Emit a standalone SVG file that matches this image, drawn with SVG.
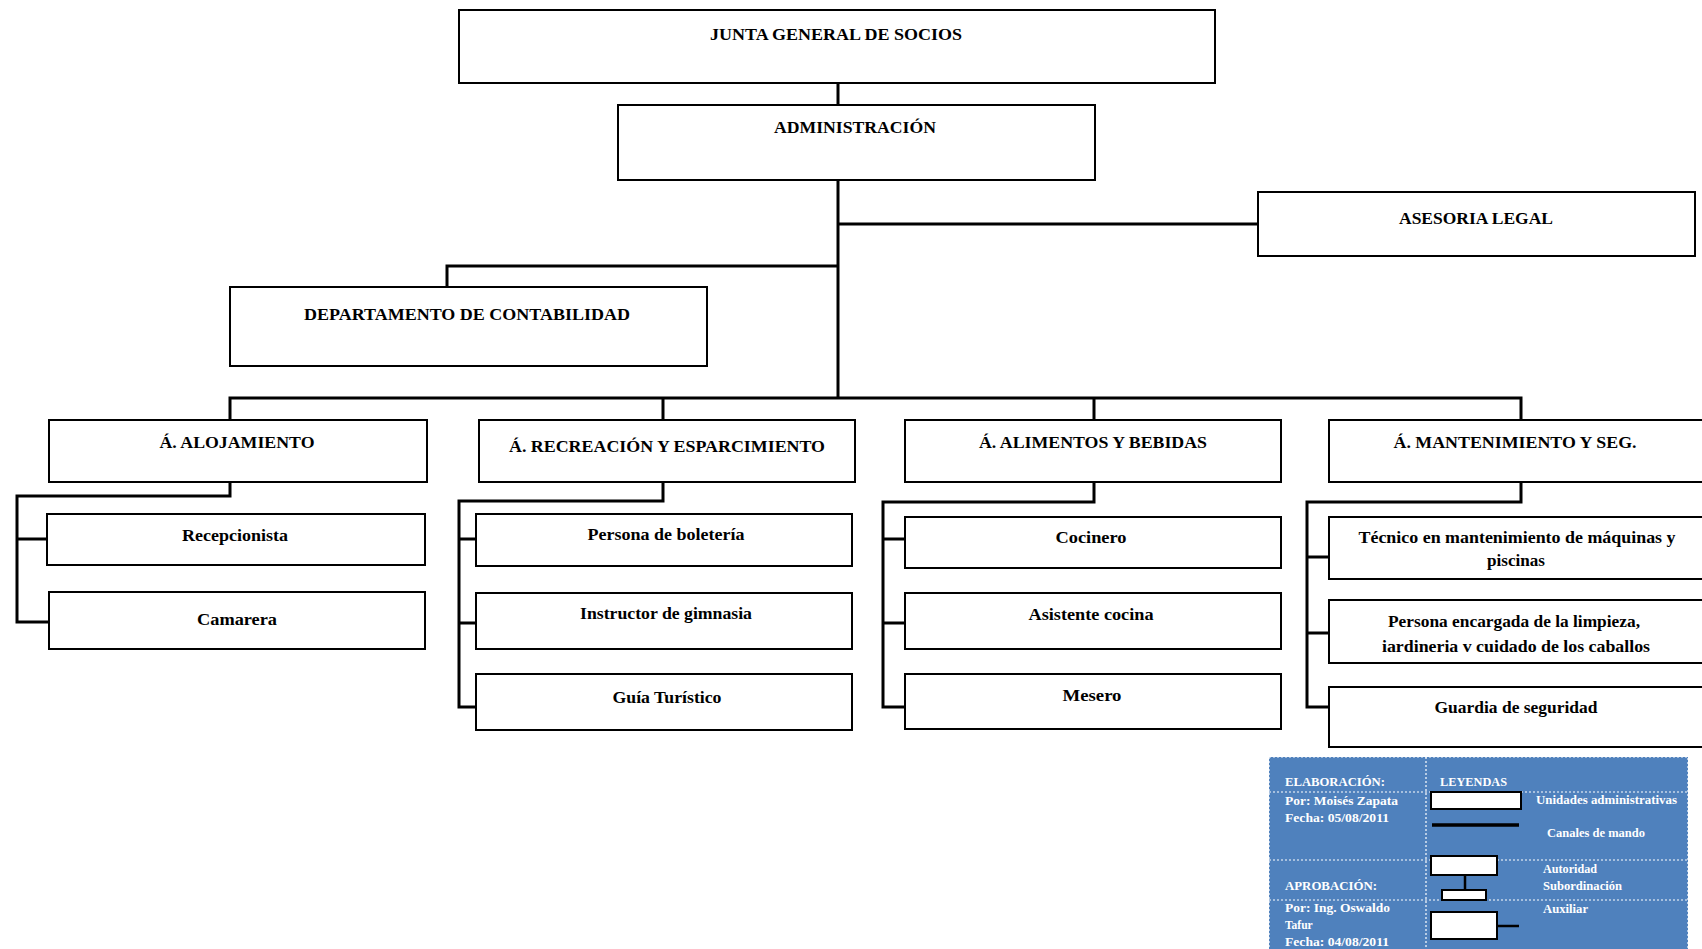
<svg xmlns="http://www.w3.org/2000/svg" width="1702" height="949" viewBox="0 0 1702 949">
<style>
.box{fill:#fff;stroke:#000;stroke-width:2}
.lbl{font-family:"Liberation Serif",serif;font-weight:bold;font-size:17px;text-anchor:middle;fill:#000}
.conn{fill:none;stroke:#000;stroke-width:3;stroke-linejoin:miter}
.leg{fill:#fff;font-family:"Liberation Serif",serif;font-weight:bold;font-size:11.5px}
.dot{fill:none;stroke:#fff;stroke-width:1.2;stroke-dasharray:2,2}
.lbox{fill:#fff;stroke:#000;stroke-width:2}
</style>
<rect width="1702" height="949" fill="#fff"/>
<g id="connectors">
<path class="conn" d="M838,83 V105"/>
<path class="conn" d="M838,180 V398"/>
<path class="conn" d="M838,224 H1258"/>
<path class="conn" d="M838,266 H447 V287"/>
<path class="conn" d="M230,420 V398 H1521 V420"/>
<path class="conn" d="M663,398 V420 M1094,398 V420"/>
<path class="conn" d="M230,482 V496 H17 V622 H49 M17,539 H47"/>
<path class="conn" d="M663,482 V501 H459 V707 H476 M459,539 H476 M459,623 H476"/>
<path class="conn" d="M1094,482 V502 H883 V707 H905 M883,539 H905 M883,623 H905"/>
<path class="conn" d="M1521,482 V502 H1307 V707 H1329 M1307,557 H1329 M1307,633 H1329"/>
</g>
<g id="junta"><rect class="box" x="459" y="10" width="756" height="73"/><text class="lbl" x="836" y="40" textLength="252" lengthAdjust="spacingAndGlyphs">JUNTA GENERAL DE SOCIOS</text></g>
<g id="admin"><rect class="box" x="618" y="105" width="477" height="75"/><text class="lbl" x="855" y="133" textLength="162" lengthAdjust="spacingAndGlyphs">ADMINISTRACIÓN</text></g>
<g id="asesoria"><rect class="box" x="1258" y="192" width="437" height="64"/><text class="lbl" x="1476" y="224" textLength="154" lengthAdjust="spacingAndGlyphs">ASESORIA LEGAL</text></g>
<g id="contabilidad"><rect class="box" x="230" y="287" width="477" height="79"/><text class="lbl" x="467" y="320" textLength="326" lengthAdjust="spacingAndGlyphs">DEPARTAMENTO DE CONTABILIDAD</text></g>
<g id="alojamiento"><rect class="box" x="49" y="420" width="378" height="62"/><text class="lbl" x="237" y="448" textLength="155" lengthAdjust="spacingAndGlyphs">Á. ALOJAMIENTO</text></g>
<g id="recreacion"><rect class="box" x="479" y="420" width="376" height="62"/><text class="lbl" x="667" y="452" textLength="316" lengthAdjust="spacingAndGlyphs">Á. RECREACIÓN Y ESPARCIMIENTO</text></g>
<g id="alimentos"><rect class="box" x="905" y="420" width="376" height="62"/><text class="lbl" x="1093" y="448" textLength="228" lengthAdjust="spacingAndGlyphs">Á. ALIMENTOS Y BEBIDAS</text></g>
<g id="mantenimiento"><rect class="box" x="1329" y="420" width="380" height="62"/><text class="lbl" x="1515" y="448" textLength="243" lengthAdjust="spacingAndGlyphs">Á. MANTENIMIENTO Y SEG.</text></g>
<g id="recepcionista"><rect class="box" x="47" y="514" width="378" height="51"/><text class="lbl" x="235" y="541" textLength="106" lengthAdjust="spacingAndGlyphs">Recepcionista</text></g>
<g id="camarera"><rect class="box" x="49" y="592" width="376" height="57"/><text class="lbl" x="237" y="625" textLength="80" lengthAdjust="spacingAndGlyphs">Camarera</text></g>
<g id="boleteria"><rect class="box" x="476" y="514" width="376" height="52"/><text class="lbl" x="666" y="540" textLength="157" lengthAdjust="spacingAndGlyphs">Persona de boletería</text></g>
<g id="instructor"><rect class="box" x="476" y="593" width="376" height="56"/><text class="lbl" x="666" y="619" textLength="172" lengthAdjust="spacingAndGlyphs">Instructor de gimnasia</text></g>
<g id="guia"><rect class="box" x="476" y="674" width="376" height="56"/><text class="lbl" x="667" y="703" textLength="109" lengthAdjust="spacingAndGlyphs">Guía Turístico</text></g>
<g id="cocinero"><rect class="box" x="905" y="517" width="376" height="51"/><text class="lbl" x="1091" y="543" textLength="71" lengthAdjust="spacingAndGlyphs">Cocinero</text></g>
<g id="asistente"><rect class="box" x="905" y="593" width="376" height="56"/><text class="lbl" x="1091" y="620" textLength="125" lengthAdjust="spacingAndGlyphs">Asistente cocina</text></g>
<g id="mesero"><rect class="box" x="905" y="674" width="376" height="55"/><text class="lbl" x="1092" y="701" textLength="59" lengthAdjust="spacingAndGlyphs">Mesero</text></g>
<g id="tecnico"><rect class="box" x="1329" y="517" width="380" height="62"/><text class="lbl" x="1517" y="543" textLength="317" lengthAdjust="spacingAndGlyphs">Técnico en mantenimiento de máquinas  y</text><text class="lbl" x="1516" y="566" textLength="58" lengthAdjust="spacingAndGlyphs">piscinas</text></g>
<g id="limpieza"><rect class="box" x="1329" y="600" width="380" height="63"/><text class="lbl" x="1514" y="627" textLength="252" lengthAdjust="spacingAndGlyphs">Persona encargada de la limpieza,</text><text class="lbl" x="1516" y="652" textLength="268" lengthAdjust="spacingAndGlyphs">iardineria v cuidado  de los caballos</text></g>
<g id="guardia"><rect class="box" x="1329" y="687" width="380" height="60"/><text class="lbl" x="1516" y="713" textLength="163" lengthAdjust="spacingAndGlyphs">Guardia de seguridad</text></g>
<g id="leyenda">
<rect x="1269" y="757" width="419" height="200" fill="#4F81BD"/>
<rect class="dot" x="1269" y="757" width="419" height="200"/>
<path class="dot" d="M1426,757 V949 M1269,792 H1688 M1269,860 H1688 M1269,900 H1688"/>
<text class="leg" x="1285" y="786" textLength="100" lengthAdjust="spacingAndGlyphs">ELABORACIÓN:</text>
<text class="leg" x="1440" y="786" textLength="67" lengthAdjust="spacingAndGlyphs">LEYENDAS</text>
<text class="leg" x="1285" y="805" textLength="113" lengthAdjust="spacingAndGlyphs">Por: Moisés Zapata</text>
<text class="leg" x="1285" y="822" textLength="104" lengthAdjust="spacingAndGlyphs">Fecha: 05/08/2011</text>
<text class="leg" x="1285" y="890" textLength="92" lengthAdjust="spacingAndGlyphs">APROBACIÓN:</text>
<text class="leg" x="1285" y="912" textLength="105" lengthAdjust="spacingAndGlyphs">Por: Ing. Oswaldo</text>
<text class="leg" x="1285" y="929">Tafur</text>
<text class="leg" x="1285" y="946" textLength="104" lengthAdjust="spacingAndGlyphs">Fecha: 04/08/2011</text>
<rect class="lbox" x="1431" y="792" width="90" height="17"/>
<text class="leg" x="1536" y="804" textLength="141" lengthAdjust="spacingAndGlyphs">Unidades  administrativas</text>
<path d="M1432,825 H1519" stroke="#000" stroke-width="3.5"/>
<text class="leg" x="1547" y="837" textLength="98" lengthAdjust="spacingAndGlyphs">Canales de mando</text>
<rect class="lbox" x="1431" y="856" width="66" height="19"/>
<path d="M1465,875 V890" stroke="#000" stroke-width="2.5"/>
<rect class="lbox" x="1442" y="890" width="44" height="10"/>
<text class="leg" x="1543" y="873" textLength="54" lengthAdjust="spacingAndGlyphs">Autoridad</text>
<text class="leg" x="1543" y="890" textLength="79" lengthAdjust="spacingAndGlyphs">Subordinación</text>
<text class="leg" x="1543" y="913" textLength="45" lengthAdjust="spacingAndGlyphs">Auxiliar</text>
<rect class="lbox" x="1431" y="912" width="66" height="27"/>
<path d="M1497,926 H1519" stroke="#000" stroke-width="2.5"/>
</g>
</svg>
